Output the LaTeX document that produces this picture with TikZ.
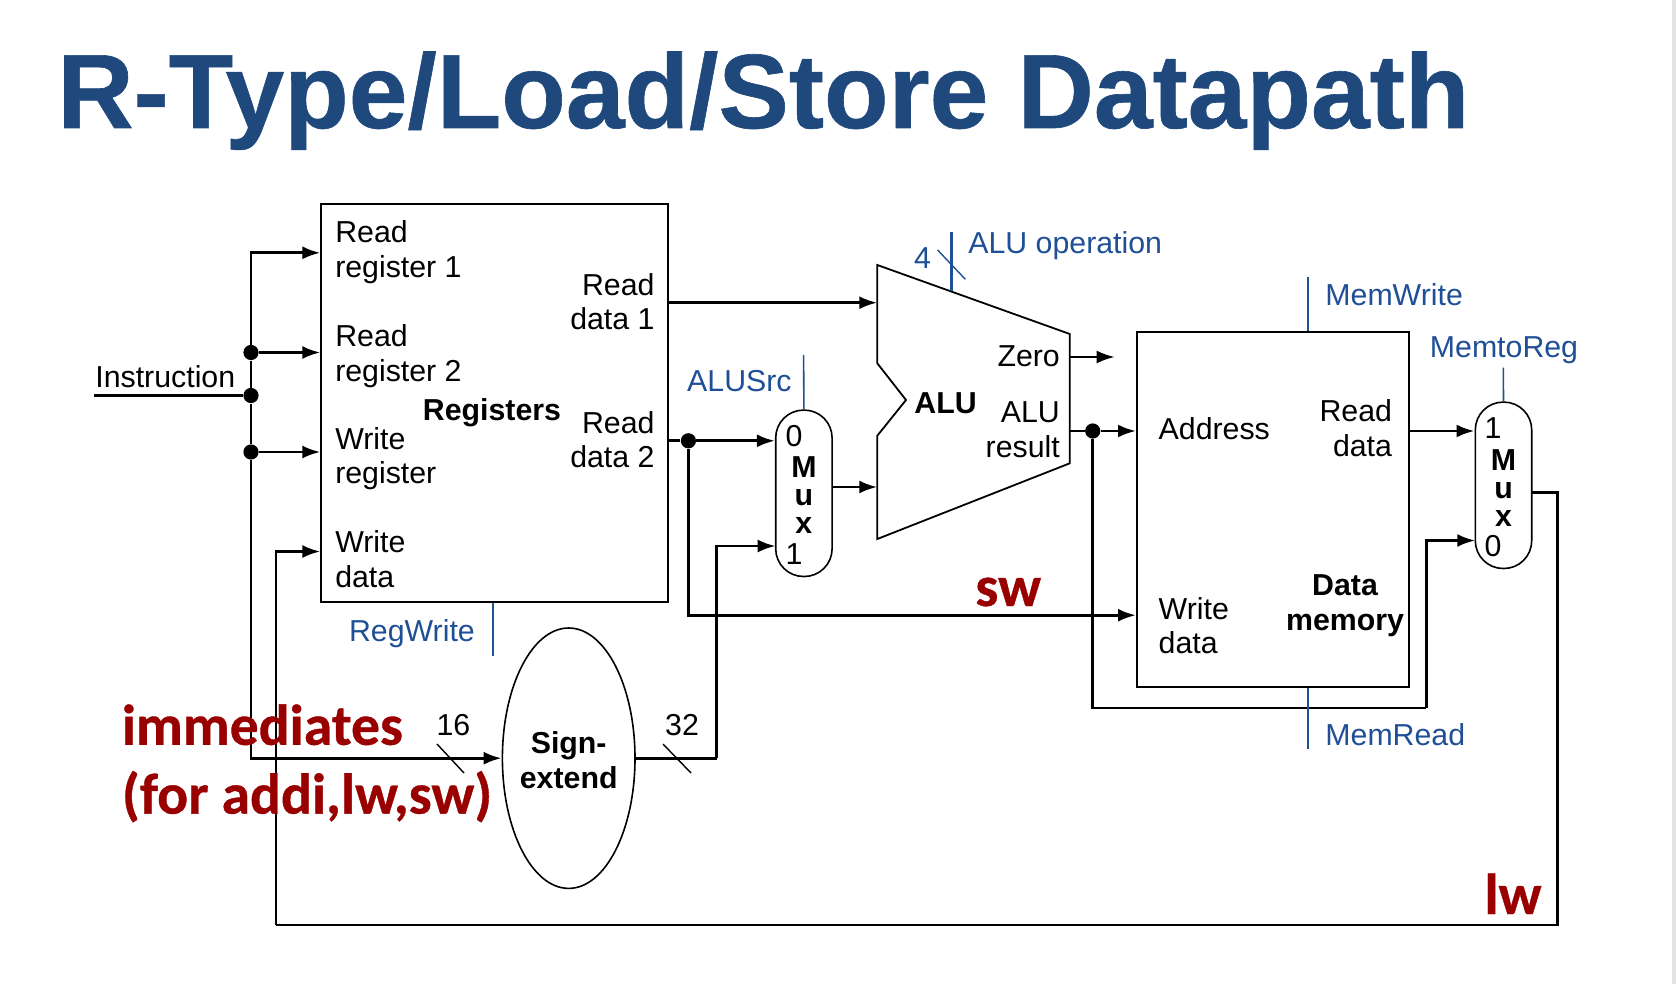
\documentclass[tikz,border=0pt]{standalone}
\usepackage{fontspec}
\setmainfont{Liberation Sans}
\newfontfamily\notefont{Carlito}[BoldFeatures={FakeBold=0.6}]
\newfontfamily\titlefont{Liberation Sans Bold}[FakeBold=0.6]
\usetikzlibrary{arrows.meta,shapes.geometric,positioning}
\definecolor{titleblue}{HTML}{1F497D}
\definecolor{ctlblue}{HTML}{1F4F96}
\definecolor{notered}{HTML}{990000}

\begin{document}
\begin{tikzpicture}[
  x=0.5pt,y=0.5pt,
  >={Latex[length=9pt,width=6.5pt]},
  lbl/.style={font=\fontsize{15.15}{17.35}\selectfont,inner sep=0pt,align=left},
  lblr/.style={lbl,align=right},
  bold/.style={font=\fontsize{15.15}{17.35}\selectfont\bfseries,inner sep=0pt,align=center},
  ctllbl/.style={lbl,text=ctlblue},
  note/.style={font=\fontsize{28.8}{34.4}\selectfont\notefont\bfseries,text=notered,inner sep=0pt,align=left},
  box/.style={draw,line width=1pt,inner sep=0pt},
  mux/.style={draw,line width=.8pt,inner sep=0pt,rounded corners=13.9pt,minimum width=28.2pt,minimum height=83.2pt},
  muxname/.style={font=\fontsize{15.15}{13.9}\selectfont\bfseries,inner sep=0pt,align=center},
  dot/.style={circle,fill,inner sep=0pt,minimum size=7.6pt},
  wire/.style={line width=1.45pt},
  ctl/.style={line width=.8pt,ctlblue},
  tick/.style={line width=.7pt},
  ]
  \useasboundingbox (0,0) rectangle (1676,-984);
  \fill[gray!22] (1672,0) rectangle (1676,-984);

  \node[font=\fontsize{52.8}{60}\selectfont\titlefont,text=titleblue,inner sep=0pt,anchor=base west] (Title) at (57,-128) {R-Type/Load/Store Datapath};

  \node[box,anchor=north west,minimum width=173.5pt,minimum height=199.2pt] (Reg) at (320.4,-202.7) {};
  \node[lbl,below right = 17.3 and 14.5 of Reg.north west] (RegR1) {Read\\register 1};
  \node[lbl,below right = 121.6 and 14.5 of Reg.north west] (RegR2) {Read\\register 2};
  \node[lbl,below right = 224 and 14.5 of Reg.north west] (RegW) {Write\\register};
  \node[lbl,below right = 327.3 and 14.5 of Reg.north west] (RegD) {Write\\data};
  \node[lblr,below left = 70 and 14.5 of Reg.north east] (RegO1) {Read\\data 1};
  \node[lblr,below left = 208 and 14.5 of Reg.north east] (RegO2) {Read\\data 2};
  \node[bold] (RegName) at (492,-413) {Registers};

  \node[box,anchor=north west,minimum width=136.2pt,minimum height=177.5pt] (Mem) at (1136,-331.3) {};
  \node[lbl,below right = 86 and 22.3 of Mem.north west] (MemA) {Address};
  \node[lbl,below right = 265.4 and 22.3 of Mem.north west] (MemD) {Write\\data};
  \node[lblr,below left = 67.7 and 18 of Mem.north east] (MemO) {Read\\data};
  \node[bold,below left = 243 and 6 of Mem.north east] (MemName) {Data\\memory};

  \node[mux] (MuxA) at (803.9,-493.3) {};
  \node[muxname] (MuxAName) at (803.9,-495) {M\\u\\x};
  \node[lbl] (MuxA0) at (794,-436) {0};
  \node[lbl] (MuxA1) at (794,-553.7) {1};
  \node[mux] (MuxB) at (1503.5,-485.3) {};
  \node[muxname] (MuxBName) at (1503.5,-488) {M\\u\\x};
  \node[lbl] (MuxB1) at (1493,-427.7) {1};
  \node[lbl] (MuxB0) at (1493,-546) {0};

  \node[ellipse,draw,line width=.8pt,inner sep=0pt,minimum width=66.3pt,minimum height=130.2pt] (Sign) at (568.7,-758.2) {};
  \node[bold] (SignName) at (568.7,-760.4) {Sign-\\extend};

  \draw[line width=.9pt] (877.3,-265) -- (1069.8,-334) -- (1069.8,-463.3) -- (877.3,-539) -- (877.3,-435.7) -- (906,-400) -- (877.3,-363.3) -- cycle;
  \node[bold] (AluName) at (945.6,-403) {ALU};
  \node[lblr,anchor=north east] (AluZ) at (1060.2,-345.3) {Zero};
  \node[lblr,anchor=north east] (AluR) at (1060.2,-401.5) {ALU\\result};

  \coordinate (AluA) at (877.3,-302.7);
  \coordinate (AluB) at (877.3,-487);
  \coordinate (ZeroA) at (1069.8,-357);
  \coordinate (ZeroB) at (1114.6,-357);
  \coordinate (AluOut) at (1069.8,-431);
  \coordinate (InstrIn) at (94,-395.5);
  \coordinate (RegIn1) at (320.4,-252.8);
  \coordinate (RegIn4) at (320.4,-551.5);
  \coordinate (SwIn) at (1136,-615.2);
  \coordinate (Turn1) at (716.8,-758.2);
  \coordinate (Turn3) at (1426.3,-708);
  \coordinate (Turn4) at (1557.7,-492.3);
  \coordinate (Turn5) at (1557.7,-925);
  \coordinate (Turn6) at (276,-925);
  \coordinate (MuxAIn1) at (775.7,-546);
  \coordinate (MuxBIn0) at (1475.3,-540.5);
  \coordinate (MuxBOut) at (1531.7,-492.3);

  \node[dot] (D1) at (251,-352.5) {};
  \node[dot] (D2) at (251,-395.5) {};
  \node[dot] (D3) at (251,-452) {};
  \node[dot] (D4) at (688.4,-440.8) {};
  \node[dot] (D5) at (1092.7,-431) {};

  \node[lbl,anchor=base west] (Instr) at (95,-387.7) {Instruction};

  \draw [wire] (InstrIn) -- (D2);
  \draw [wire] (D1) -- (D2);
  \draw [wire] (D2) -- (D3);
  \draw [wire,->] (D1) |- (RegIn1);
  \draw [wire,->] (D1) -- (D1 -| Reg.west);
  \draw [wire,->] (D3) -- (D3 -| Reg.west);
  \draw [wire,->] (D3) |- (Sign.west);
  \draw [wire,->] (Reg.east |- AluA) -- (AluA);
  \draw [wire] (Reg.east |- D4) -- (D4);
  \draw [wire,->] (D4) -- (D4 -| MuxA.west);
  \draw [wire,->] (D4) |- (SwIn);
  \draw [wire] (Sign.east |- Turn1) -- (Turn1);
  \draw [wire,->] (Turn1) |- (MuxAIn1);
  \draw [wire,->] (MuxA.east |- AluB) -- (AluB);
  \draw [line width=1pt,->] (ZeroA) -- (ZeroB);
  \draw [wire] (AluOut) -- (D5);
  \draw [wire,->] (D5) -- (D5 -| Mem.west);
  \draw [wire] (D5) |- (Turn3);
  \draw [wire,->] (Turn3) |- (MuxBIn0);
  \draw [wire,->] (Mem.east |- D5) -- (D5 -| MuxB.west);
  \draw [wire] (MuxBOut) -- (Turn4) -- (Turn5) -- (Turn6);
  \draw [wire,->] (Turn6) |- (RegIn4);

  \coordinate (SrcTop) at (803.6,-355);
  \coordinate (RegWrEnd) at (492.9,-656);
  \coordinate (OpTop) at (951.4,-231.7);
  \coordinate (OpEnd) at (951.4,-290.7);
  \coordinate (WrTop) at (1308,-276.7);
  \coordinate (RdEnd) at (1308,-749);
  \coordinate (M2RTop) at (1503.3,-367.7);

  \draw [ctl] (SrcTop) -- (MuxA.north);
  \draw [ctl] (RegWrEnd) -- (RegWrEnd |- Reg.south);
  \draw [ctl,line width=1.2pt] (OpTop) -- (OpEnd);
  \draw [ctl] (WrTop) -- (WrTop |- Mem.north);
  \draw [ctl] (RdEnd) -- (RdEnd |- Mem.south);
  \draw [ctl] (M2RTop) -- (MuxB.north);

  \node[ctllbl,below left = 14.7 and 11.6 of SrcTop] (SrcLbl) {ALUSrc};
  \node[ctllbl,anchor=north east] (RegWrLbl) at (475.2,-619.3) {RegWrite};
  \node[ctllbl,below right = -1 and 16.6 of OpTop] (OpLbl) {ALU operation};
  \node[ctllbl] (OpBits) at (922.6,-258) {4};
  \node[ctllbl,below right = 6.6 and 17 of WrTop] (WrLbl) {MemWrite};
  \node[ctllbl,anchor=north west] (RdLbl) at (1325,-723) {MemRead};
  \node[ctllbl,anchor=north west] (M2RLbl) at (1429.5,-336) {MemtoReg};

  \coordinate (OpTickA) at (937.6,-250);
  \coordinate (OpTickB) at (965.3,-279.3);
  \coordinate (InTickA) at (437,-744);
  \coordinate (InTickB) at (464,-773);
  \coordinate (OutTickA) at (663,-744);
  \coordinate (OutTickB) at (691,-773);
  \draw [tick,ctlblue] (OpTickA) -- (OpTickB);
  \draw [tick] (InTickA) -- (InTickB);
  \draw [tick] (OutTickA) -- (OutTickB);
  \node[lbl] (InBits) at (453.5,-725.3) {16};
  \node[lbl] (OutBits) at (682,-725.3) {32};

  \node[note,anchor=base west] (SwNote) at (975,-606) {sw};
  \node[note,anchor=base west] (LwNote) at (1484,-914) {lw};
  \node[note,anchor=north west] (ImmNote) at (121.5,-704) {immediates\\(for addi,lw,sw)};
\end{tikzpicture}
\end{document}
